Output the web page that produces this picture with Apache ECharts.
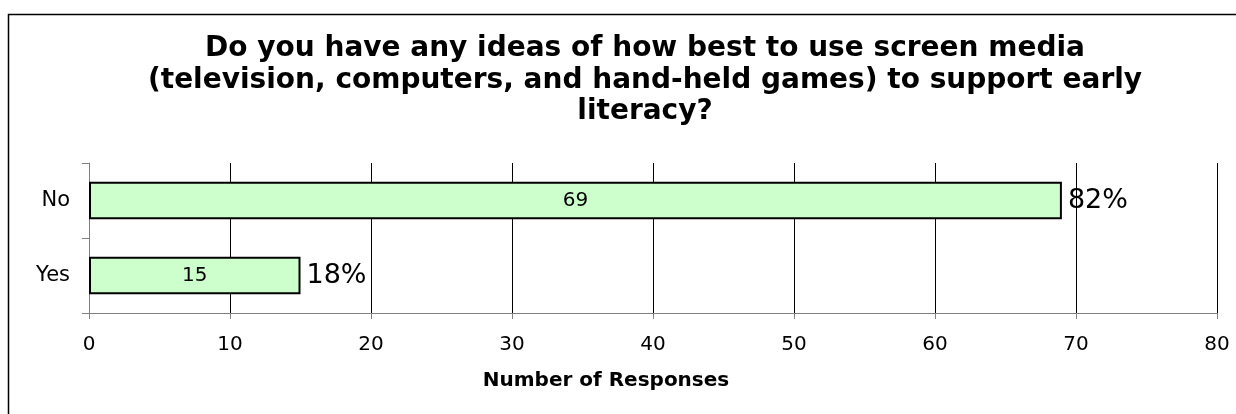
<!DOCTYPE html>
<html>
<head>
<meta charset="utf-8">
<script src="https://cdn.jsdelivr.net/npm/echarts@6/dist/echarts.min.js"></script>
<style>
html,body{margin:0;padding:0;background:#fff;}
#c{width:1236px;height:414px;}
</style>
</head>
<body>
<div id="c"></div>
<script>
const categories = ['Yes', 'No'];
const responses = [15, 69];
const percents = ['18%', '82%'];
const xTicks = [0, 10, 20, 30, 40, 50, 60, 70, 80];

const FONT = 'DejaVu Sans, Verdana, sans-serif';
const chart = echarts.init(document.getElementById('c'), null, {renderer: 'canvas'});
chart.setOption({
  animation: false,
  backgroundColor: '#fff',
  title: {
    text: 'Do you have any ideas of how best to use screen media\n(television, computers, and hand-held games) to support early\nliteracy?',
    left: 640,
    textAlign: 'center',
    top: 28,
    textStyle: {fontFamily: FONT, fontWeight: 'bold', fontSize: 28, lineHeight: 31.5, color: '#000'}
  },
  graphic: [
    {type: 'rect', shape: {x: 8.5, y: 14.5, width: 1240, height: 420}, style: {fill: 'none', stroke: '#000', lineWidth: 1.5}, silent: true, z: 100},
    {type: 'text', x: 606, y: 381, style: {text: 'Number of Responses', fontFamily: FONT, fontWeight: 'bold', fontSize: 20, fill: '#000', textAlign: 'center', textVerticalAlign: 'middle'}}
  ],
  grid: {left: 89, right: 19, top: 163, bottom: 101, containLabel: false},
  xAxis: {
    type: 'value', min: xTicks[0], max: xTicks[xTicks.length - 1], interval: 10,
    axisLine: {show: true, lineStyle: {color: '#808080', width: 1}},
    axisTick: {show: true, length: 6, lineStyle: {color: '#808080'}},
    axisLabel: {fontFamily: FONT, fontSize: 20, color: '#000', margin: 22},
    splitLine: {show: true, lineStyle: {color: '#000', width: 1}}
  },
  yAxis: {
    type: 'category', data: categories,
    axisLine: {show: true, lineStyle: {color: '#808080', width: 1}},
    axisTick: {show: true, inside: false, length: 7, lineStyle: {color: '#808080'}},
    axisLabel: {fontFamily: FONT, fontSize: 21, color: '#000', margin: 19}
  },
  series: [
    {
      type: 'bar', data: responses, barCategoryGap: '50%', barGap: '-100%',
      itemStyle: {color: '#CCFFCC', borderColor: '#000', borderWidth: 2},
      label: {show: true, position: 'inside', fontFamily: FONT, fontSize: 20, color: '#000'},
      z: 3
    },
    {
      type: 'bar', data: responses, barCategoryGap: '50%', barGap: '-100%', silent: true,
      itemStyle: {color: 'rgba(0,0,0,0)', borderWidth: 0},
      label: {show: true, position: 'right', distance: 6, fontFamily: FONT, fontSize: 27, color: '#000',
        formatter: p => percents[p.dataIndex]},
      z: 4
    }
  ]
});
</script>
</body>
</html>
